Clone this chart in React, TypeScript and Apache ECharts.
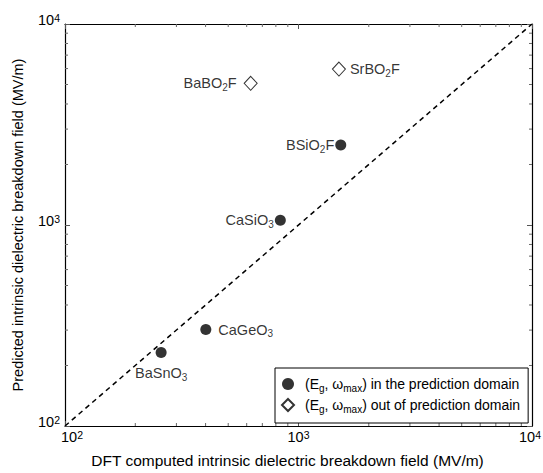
import React, { useEffect, useRef } from "react";
import * as echarts from "echarts";

// DFT computed (x) vs predicted (y) intrinsic dielectric breakdown field, MV/m
const inNames = ["BaSnO{s|3}", "CaGeO{s|3}", "CaSiO{s|3}", "BSiO{s|2}F"];
const inX = [258, 401, 836, 1517];
const inY = [232, 302, 1057, 2500];
const inLabelPos = ["bottom", "right", "left", "left"];

const outNames = ["BaBO{s|2}F", "SrBO{s|2}F"];
const outX = [624, 1490];
const outY = [5070, 5970];
const outLabelPos = ["left", "right"];

const diagonal = [100, 10000];
const minorTickValues = [200, 300, 400, 500, 600, 700, 800, 900, 2000, 3000, 4000, 5000, 6000, 7000, 8000, 9000];
const axisMin = 100;
const axisMax = 10000;

const FONT = "'Liberation Sans', Arial, sans-serif";
const subRich = {
  s: { fontSize: 10, verticalAlign: "bottom", lineHeight: 18, fontFamily: FONT, color: "#000" },
};
const supRich = {
  b: { fontSize: 14.5, lineHeight: 16, fontFamily: FONT, color: "#000" },
  sup: { fontSize: 10.5, verticalAlign: "top", lineHeight: 16, fontFamily: FONT, color: "#000" },
  f: { fontSize: 14.5, lineHeight: 16, fontFamily: FONT, color: "#000", padding: [0, 0, 0, 14] },
};

function expLabel(v: number, isX: boolean) {
  const e = Math.round(Math.log10(v));
  const base = isX && e === 2 ? "{f|10}" : "{b|10}";
  return base + "{sup|" + e + "}";
}

export default function App() {
  const ref = useRef<HTMLDivElement>(null);
  useEffect(() => {
    if (!ref.current) return;
    const chart = echarts.init(ref.current, null, { renderer: "svg" });

    const axisBase = {
      type: "log",
      logBase: 10,
      min: axisMin,
      max: axisMax,
      axisLine: { show: true, lineStyle: { color: "#000", width: 1.2 } },
      axisTick: { show: true, inside: true, length: 5, lineStyle: { color: "#555", width: 1 } },
      splitLine: { show: false },
      minorTick: { show: false },
    };

    const tickRender = (orient: "x" | "y") => (params: any, api: any) => {
      const v = api.value(orient === "x" ? 0 : 1);
      const len = 3;
      const style = { stroke: "#666", lineWidth: 1 };
      if (orient === "x") {
        const b = api.coord([v, axisMin]);
        const t = api.coord([v, axisMax]);
        return {
          type: "group",
          children: [
            { type: "line", shape: { x1: b[0], y1: b[1], x2: b[0], y2: b[1] - len }, style },
            { type: "line", shape: { x1: t[0], y1: t[1], x2: t[0], y2: t[1] + len }, style },
          ],
        };
      }
      const l = api.coord([axisMin, v]);
      const r = api.coord([axisMax, v]);
      return {
        type: "group",
        children: [
          { type: "line", shape: { x1: l[0], y1: l[1], x2: l[0] + len, y2: l[1] }, style },
          { type: "line", shape: { x1: r[0], y1: r[1], x2: r[0] - len, y2: r[1] }, style },
        ],
      };
    };

    const labelCommon = {
      show: true,
      color: "#000",
      fontSize: 14.5,
      lineHeight: 18,
      fontFamily: FONT,
      rich: subRich,
    };

    chart.setOption({
      animation: false,
      backgroundColor: "#fff",
      textStyle: { fontFamily: FONT },
      grid: { left: 65, right: 11, top: 24, bottom: 44, containLabel: false },
      xAxis: [
        {
          ...axisBase,
          position: "bottom",
          name: "DFT computed intrinsic dielectric breakdown field (MV/m)",
          nameLocation: "middle",
          nameGap: 26,
          nameTextStyle: { fontSize: 15.5, color: "#000", fontFamily: FONT, padding: [0, 22, 0, 0] },
          axisLabel: {
            show: true,
            margin: 3,
            showMaxLabel: false,
            formatter: (v: number) => expLabel(v, true),
            rich: supRich,
          },
        },
        {
          ...axisBase,
          position: "top",
          axisLabel: { show: false },
        },
      ],
      yAxis: [
        {
          ...axisBase,
          position: "left",
          name: "Predicted intrinsic dielectric breakdown field (MV/m)",
          nameLocation: "middle",
          nameGap: 40,
          nameTextStyle: { fontSize: 14.5, color: "#000", fontFamily: FONT },
          axisLabel: {
            show: true,
            margin: 5,
            padding: [0, 0, 8, 0],
            formatter: (v: number) => expLabel(v, false),
            rich: supRich,
          },
        },
        {
          ...axisBase,
          position: "right",
          axisLabel: { show: false },
        },
      ],
      legend: {
        orient: "vertical",
        left: 275,
        top: 368,
        padding: [7, 8, 9, 6],
        itemGap: 3,
        itemWidth: 12,
        itemHeight: 12,
        borderColor: "#000",
        borderWidth: 1,
        backgroundColor: "#fff",
        selectedMode: false,
        data: ["in", "out"],
        formatter: (name: string) =>
          name === "in"
            ? "(E{s|g}, ω{s|max}) in the prediction domain"
            : "(E{s|g}, ω{s|max}) out of prediction domain",
        textStyle: {
          fontSize: 14,
          color: "#000",
          fontFamily: FONT,
          lineHeight: 18,
          padding: [0, 0, 0, 6],
          rich: subRich,
        },
      },
      series: [
        {
          type: "line",
          name: "diag",
          data: diagonal.map((v) => [v, v]),
          showSymbol: false,
          symbol: "none",
          lineStyle: { color: "#000", width: 1.5, type: [5, 4] },
          silent: true,
          z: 1,
        },
        {
          type: "custom",
          name: "xminor",
          data: minorTickValues.map((v) => [v, axisMin]),
          renderItem: tickRender("x"),
          silent: true,
        },
        {
          type: "custom",
          name: "yminor",
          data: minorTickValues.map((v) => [axisMin, v]),
          renderItem: tickRender("y"),
          silent: true,
        },
        {
          type: "scatter",
          name: "in",
          symbol: "circle",
          symbolSize: 11,
          itemStyle: { color: "#000" },
          data: inX.map((x, i) => ({
            value: [x, inY[i]],
            label: {
              ...labelCommon,
              position: inLabelPos[i],
              distance: inLabelPos[i] === "left" ? 1 : inLabelPos[i] === "bottom" ? 6 : 7,
              formatter: inNames[i],
            },
          })),
          z: 3,
        },
        {
          type: "scatter",
          name: "out",
          symbol: "diamond",
          symbolSize: [13, 14],
          itemStyle: { color: "#fff", borderColor: "#000", borderWidth: 1 },
          data: outX.map((x, i) => ({
            value: [x, outY[i]],
            label: {
              ...labelCommon,
              position: outLabelPos[i],
              distance: outLabelPos[i] === "left" ? 7 : 4,
              formatter: outNames[i],
            },
          })),
          z: 3,
        },
      ],
    });

    // last x tick label, placed at the axis' own pixel position
    const p = chart.convertToPixel({ xAxisIndex: 0, yAxisIndex: 0 }, [axisMax, axisMin]) as number[];
    if (p && isFinite(p[0])) {
      chart.setOption({
        graphic: [
          {
            type: "text",
            x: p[0] - 13,
            y: p[1] + 3,
            silent: true,
            style: {
              text: expLabel(axisMax, true),
              rich: supRich,
              fill: "#000",
              font: "14.5px " + FONT,
            },
          },
        ],
      });
    }
    return () => chart.dispose();
  }, []);
  return (
    <div
      ref={ref}
      style={{ position: "fixed", left: 0, top: 0, width: 543, height: 473 }}
    />
  );
}
